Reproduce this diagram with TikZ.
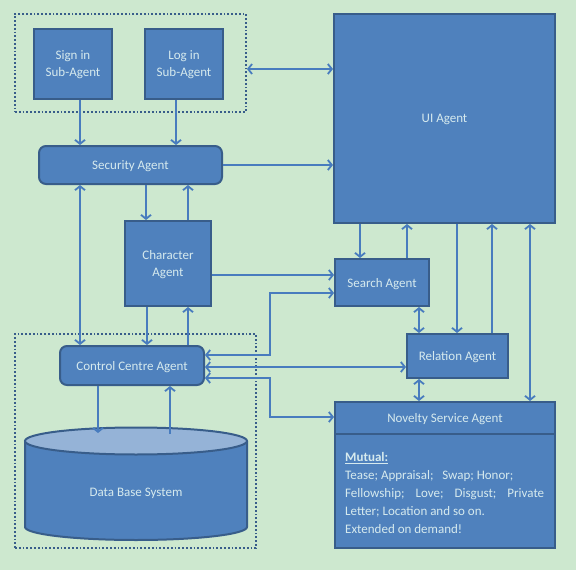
\documentclass[tikz,border=0pt]{standalone}
\usepackage{fontspec}
\setmainfont{Carlito}
\usetikzlibrary{arrows.meta}
\definecolor{bgcol}{RGB}{205,232,207}
\definecolor{boxfill}{RGB}{79,129,189}
\definecolor{boxline}{RGB}{56,93,138}
\definecolor{linkblue}{RGB}{72,124,190}
\definecolor{agenttext}{RGB}{214,234,238}
\definecolor{dbtop}{RGB}{149,179,215}

\begin{document}
\begin{tikzpicture}[x=1pt,y=-1pt,>={Straight Barb[length=4pt,width=10pt]},
    agent/.style={draw=boxline,fill=boxfill,line width=2pt,text=agenttext,
      font=\fontsize{13}{17}\selectfont,align=center,inner sep=0pt,text depth=0pt},
    roundagent/.style={agent,rounded corners=7pt},
    group/.style={draw=boxline,line width=1.8pt,dotted,inner sep=0pt},
    wire/.style={color=linkblue,line width=1.8pt}]
      \path[use as bounding box,fill=bgcol] (0,0) rectangle (576,570);

      \node[group,minimum width=231,minimum height=98] (usergrp) at (130.5,63) {};
      \node[group,minimum width=241,minimum height=214] (dbgrp) at (135.5,441) {};

      \node[agent,minimum width=78,minimum height=70] (signin) at (73,64) {Sign in\\Sub-Agent};
      \node[agent,minimum width=78,minimum height=70] (login) at (184,64) {Log in\\Sub-Agent};
      \node[agent,minimum width=221,minimum height=209] (ui) at (444.5,118.5) {UI Agent};
      \node[roundagent,minimum width=183,minimum height=38] (security) at (130.5,165) {Security Agent};
      \node[agent,minimum width=86,minimum height=85] (character) at (168,263.5) {Character\\Agent};
      \node[agent,minimum width=94,minimum height=47] (search) at (382,282.5) {Search Agent};
      \node[agent,minimum width=101,minimum height=44] (relation) at (457.5,356) {Relation Agent};
      \node[roundagent,minimum width=144,minimum height=39] (control) at (132,365.5) {Control Centre Agent};
      \node[agent,minimum width=220,minimum height=32] (novelty) at (445,418) {Novelty Service Agent};
      \node[agent,minimum width=220,minimum height=114] (noveltybody) at (445,491) {};
      \node[text=agenttext,font=\fontsize{13}{18}\selectfont,align=left,inner sep=0pt,
        anchor=north west] (mutual) at (345,452)
        {\textbf{\underline{Mutual:}}\\
         Tease; Appraisal;\ \ \ Swap; Honor;\\
         \makebox[199pt][s]{Fellowship; Love; Disgust; Private}\\
         Letter; Location and so on.\\
         Extended on demand!};

      \fill[boxfill] (25,441) -- (25,527) arc[start angle=180,end angle=0,x radius=111,y radius=13] -- (247,441) -- cycle;
      \draw[boxline,line width=2pt] (25,441) -- (25,527) arc[start angle=180,end angle=0,x radius=111,y radius=13] -- (247,441);
      \draw[boxline,fill=dbtop,line width=2pt] (136,441) ellipse[x radius=111,y radius=13.5];
      \node[text=agenttext,font=\fontsize{13}{17}\selectfont,text depth=0pt] (db) at (136,492) {Data Base System};
      \coordinate (dbin) at (98,433);
      \coordinate (dbout) at (170,434);

      \path[wire,->]
      (signin.south -| 80,0) edge (security.north -| 80,0)
      (login.south -| 176,0) edge (security.north -| 176,0)
      (security.east) edge (ui.west |- security.east)

      (security.south -| 146,0) edge (character.north -| 146,0)
      (character.north -| 188,0) edge (security.south -| 188,0)
      (character.south -| 147,0) edge (control.north -| 147,0)
      (control.north -| 188,0) edge (character.south -| 188,0)
      (character.east |- 0,275) edge (search.west |- 0,275)

      (ui.south -| 360,0) edge (search.north -| 360,0)
      (search.north -| 407,0) edge (ui.south -| 407,0)
      (ui.south -| 457,0) edge (relation.north -| 457,0)
      (relation.north -| 492,0) edge (ui.south -| 492,0)

      (control.south -| dbin) edge (dbin)
      (dbout) edge (control.south -| dbout)
      ;

      \path[wire,<->]
      (usergrp.east |- 0,69) edge (ui.west |- 0,69)
      (security.south -| 80,0) edge (control.north -| 80,0)
      (control.east |- 0,367) edge (relation.west |- 0,367)
      (ui.south -| 530,0) edge (novelty.north -| 530,0)
      (search.south -| 419,0) edge (relation.north -| 419,0)
      (relation.south -| 419,0) edge (novelty.north -| 419,0)
      ;

      \draw[wire,<->] (control.east |- 0,355) -| (270,293) -- (search.west |- 0,293);
      \draw[wire,<->] (control.east |- 0,378) -| (270,417) -- (novelty.west |- 0,417);
\end{tikzpicture}
\end{document}
